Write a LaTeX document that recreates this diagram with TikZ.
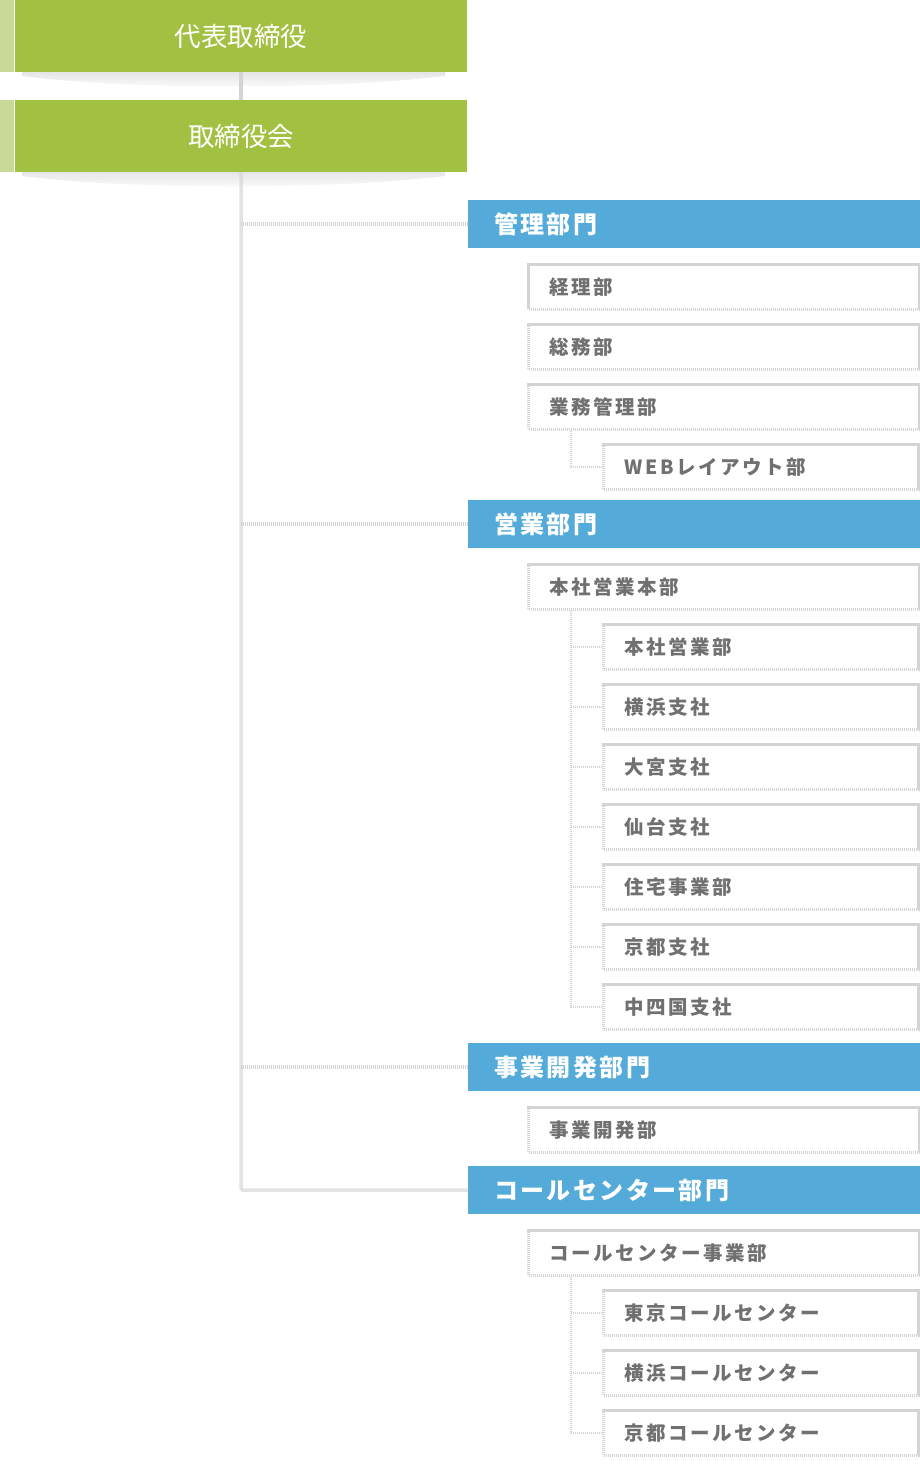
\documentclass[tikz,border=0pt]{standalone}
\usepackage{fontspec}
\newfontfamily\jp{Noto Sans CJK JP}
\newfontfamily\jpb[LetterSpace=10]{Noto Sans CJK JP}
\newfontfamily\jpg[LetterSpace=13]{Noto Sans CJK JP}
\definecolor{topgreen}{RGB}{162,192,65}
\definecolor{stripc}{RGB}{200,218,150}
\definecolor{hdrblue}{RGB}{84,170,216}
\definecolor{hatch}{RGB}{212,212,212}
\definecolor{txtgrey}{RGB}{112,112,112}
\tikzset{
  topbox/.style={fill=topgreen, text=white, minimum width=452pt, minimum height=72pt, inner sep=0pt, anchor=north west, font=\jp\fontsize{26.5}{26.5}\selectfont},
  hdrbox/.style={fill=hdrblue, text=white, minimum height=48pt, text width=400pt, inner xsep=26pt, inner ysep=0pt, align=left, anchor=north west, font=\jpb\bfseries\fontsize{24}{24}\selectfont},
  subbox/.style={draw=hatch, line width=3pt, dash pattern=on 1.2pt off 0.8pt, fill=white, text=txtgrey, minimum height=45pt, inner ysep=0pt, align=left, anchor=north west, font=\jpg\bfseries\fontsize{19.5}{19.5}\selectfont},
  lvone/.style={subbox, text width=349pt, inner xsep=21pt},
  lvtwo/.style={subbox, text width=273pt, inner xsep=21pt},
  conn/.style={draw=hatch, line width=3.5pt, dash pattern=on 1.2pt off 0.8pt},
  subconn/.style={draw=hatch, line width=2.8pt, dash pattern=on 1.2pt off 0.8pt},
}
\begin{document}
\begin{tikzpicture}[x=1pt, y=-1pt]
\useasboundingbox (0,0) rectangle (920,1470);
% shadows
\foreach \yy in {72,172}{
  \shade[top color=black!10, bottom color=white] (22,\yy) -- (445,\yy) -- (445,\yy+4) .. controls (330,\yy+18) and (130,\yy+18) .. (22,\yy+4) -- cycle;
}
% strips
\fill[stripc] (0,0) rectangle (14,72);
\fill[stripc] (0,100) rectangle (14,172);
% top boxes
\node[topbox] (ceo) at (15,0) {代表取締役};
\node[topbox] (board) at (15,100) {取締役会};
% headers
\node[hdrbox] (kanri) at (468,200) {管理部門};
\node[hdrbox] (eigyo) at (468,500) {営業部門};
\node[hdrbox] (jigyo) at (468,1043) {事業開発部門};
\node[hdrbox] (call) at (468,1166) {コールセンター部門};
% main connectors
\coordinate (vbot) at (241,1190);
\draw[conn] (ceo.south) -- (board.north);
\draw[conn] (board.south) -- (vbot) -- (call.west);
\draw[conn] (board.south |- kanri.west) -- (kanri.west);
\draw[conn] (board.south |- eigyo.west) -- (eigyo.west);
\draw[conn] (board.south |- jigyo.west) -- (jigyo.west);
% level 1 boxes
\node[lvone] (keiri) at (527,263) {経理部};
\node[lvone] (somu) at (527,323) {総務部};
\node[lvone] (gyomu) at (527,383) {業務管理部};
\node[lvone] (honbu) at (527,563) {本社営業本部};
\node[lvone] (jbu) at (527,1106) {事業開発部};
\node[lvone] (cbu) at (527,1229) {コールセンター事業部};
% level 2 boxes
\coordinate (gq) at ([xshift=44pt]gyomu.south west);
\coordinate (hq) at ([xshift=44pt]honbu.south west);
\coordinate (cq) at ([xshift=44pt]cbu.south west);
\node[lvtwo] (web) at (602,443) {WEBレイアウト部};
\node[lvtwo] (c1) at (602,623) {本社営業部};
\node[lvtwo] (c2) at (602,683) {横浜支社};
\node[lvtwo] (c3) at (602,743) {大宮支社};
\node[lvtwo] (c4) at (602,803) {仙台支社};
\node[lvtwo] (c5) at (602,863) {住宅事業部};
\node[lvtwo] (c6) at (602,923) {京都支社};
\node[lvtwo] (c7) at (602,983) {中四国支社};
\node[lvtwo] (d1) at (602,1289) {東京コールセンター};
\node[lvtwo] (d2) at (602,1349) {横浜コールセンター};
\node[lvtwo] (d3) at (602,1409) {京都コールセンター};
% sub connectors
\draw[subconn] (gq) |- (web.west);
\draw[subconn] (hq) |- (c7.west);
\foreach \n in {c1,c2,c3,c4,c5,c6}{\draw[subconn] (hq |- \n.west) -- (\n.west);}
\draw[subconn] (cq) |- (d3.west);
\foreach \n in {d1,d2}{\draw[subconn] (cq |- \n.west) -- (\n.west);}
\end{tikzpicture}
\end{document}
